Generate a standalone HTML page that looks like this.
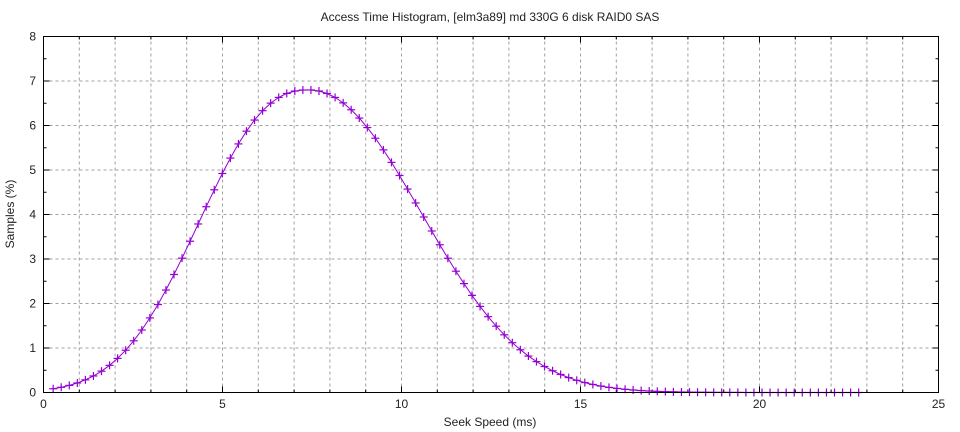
<!DOCTYPE html>
<html><head><meta charset="utf-8"><style>
html,body{margin:0;padding:0;background:#fff;}
svg{display:block;font-family:"Liberation Sans",sans-serif;}
</style></head><body>
<svg id="s" width="960" height="432" viewBox="0 0 960 432" xmlns="http://www.w3.org/2000/svg">
<rect width="960" height="432" fill="#fff"/>
<g id="grid" stroke="#a0a0a0" stroke-width="1" stroke-dasharray="3,3"></g>
<g id="ticks" stroke="#000" stroke-width="1"></g>
<g id="labels" font-size="12" fill="#222"></g>
<path id="curve" fill="none" stroke="#9400d3" stroke-width="1"/>
<g id="pts" stroke="#9400d3" stroke-width="1.2"></g>
<rect x="43.5" y="36.5" width="895" height="356" fill="none" stroke="#000" stroke-width="1"/>
<text x="490" y="21" font-size="12" text-anchor="middle" fill="#222">Access Time Histogram, [elm3a89] md 330G 6 disk RAID0 SAS</text>
<text x="490" y="426" font-size="12" text-anchor="middle" fill="#222">Seek Speed (ms)</text>
<text transform="translate(14,214) rotate(-90)" font-size="12" text-anchor="middle" fill="#222">Samples (%)</text>
</svg>
<script>
var X0=43.5,X1=938.5,Y0=392.5,Y1=36.5;
function px(x){return X0+(X1-X0)*x/25;}
function py(y){return Y0-(Y0-Y1)*y/8;}
var ns="http://www.w3.org/2000/svg";
function el(p,t,a,txt){var e=document.createElementNS(ns,t);for(var k in a)e.setAttribute(k,a[k]);if(txt!==undefined)e.textContent=txt;document.getElementById(p).appendChild(e);}
for(var i=1;i<25;i++){el("grid","line",{x1:px(i),x2:px(i),y1:Y0,y2:Y1});}
for(var j=1;j<8;j++){el("grid","line",{x1:X0,x2:X1,y1:py(j),y2:py(j)});}
for(var i=0;i<=25;i++){var L=i%5==0?6:3;el("ticks","line",{x1:px(i),x2:px(i),y1:Y0,y2:Y0-L});el("ticks","line",{x1:px(i),x2:px(i),y1:Y1,y2:Y1+L});}
for(var j=0;j<=16;j++){var L=j%2==0?6:3;var y=py(j/2);el("ticks","line",{x1:X0,x2:X0+L,y1:y,y2:y});el("ticks","line",{x1:X1,x2:X1-L,y1:y,y2:y});}
for(var i=0;i<=25;i+=5){el("labels","text",{x:px(i),y:408,"text-anchor":"middle"},""+i);}
for(var j=0;j<=8;j++){el("labels","text",{x:36,y:py(j)+4,"text-anchor":"end"},""+j);}
function f(x){var d=x-7.4;var a,p;if(d<0){a=3.85;p=2.4;}else{a=4.3;p=2.1;}return 6.8*Math.exp(-Math.pow(Math.abs(d)/a,p));}
var dstr="";
for(var k=0;k<=100;k++){var x=0.27+k*0.225;var y=f(x);var X=px(x),Y=py(y);dstr+=(k?"L":"M")+X.toFixed(1)+","+Y.toFixed(1);
el("pts","line",{x1:X-4,x2:X+4,y1:Y,y2:Y});el("pts","line",{x1:X,x2:X,y1:Y-4,y2:Y+4});}
document.getElementById("curve").setAttribute("d",dstr);
</script>
</body></html>
